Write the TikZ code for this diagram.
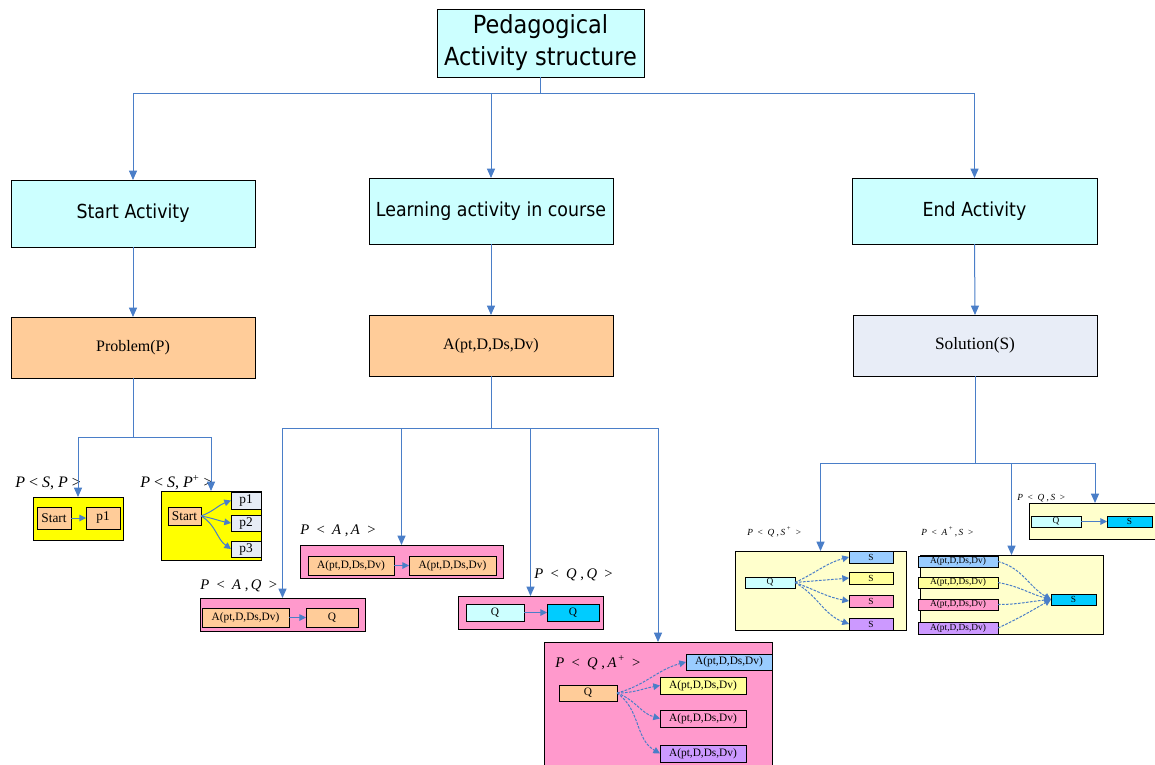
\documentclass[tikz,border=0pt]{standalone}
\usepackage{fontspec}
\setmainfont{Liberation Serif}
\newfontfamily\headfont{DejaVu Sans Condensed}
\usetikzlibrary{arrows.meta}

\definecolor{cyanlt}{HTML}{CCFFFF}
\definecolor{orangelt}{HTML}{FFCC99}
\definecolor{solfill}{HTML}{E8EDF7}
\definecolor{yel}{HTML}{FFFF00}
\definecolor{pfill}{HTML}{E6ECF5}
\definecolor{pinkbg}{HTML}{FF99CC}
\definecolor{creambg}{HTML}{FFFFCC}
\definecolor{cyandk}{HTML}{00CCFF}
\definecolor{bluelt}{HTML}{99CCFF}
\definecolor{yellt}{HTML}{FFFF99}
\definecolor{purplelt}{HTML}{CC99FF}
\definecolor{lineblue}{HTML}{4A7EC8}

% box from corner (x1,y1) to (x2,y2), in pixel units
\newcommand\bx[7]{\node[#6, minimum width={(#4-#2)*0.75pt}, minimum height={(#5-#3)*0.75pt}] (#1) at ({(#2+#4)/2},{(#3+#5)/2}) {#7};}
\newcommand\lbl[5]{\node[anchor=base west, inner sep=0pt, font=\fontsize{#4}{#4}\selectfont] (#1) at (#2,#3) {#5};}

\tikzset{
  box/.style={draw=black, line width=0.7pt, inner sep=0pt, outer sep=0pt, align=center},
  head/.style={box, fill=cyanlt, font=\headfont\fontsize{14.5}{17}\selectfont},
  mid/.style={box, font=\fontsize{12}{14}\selectfont},
  frame/.style={box, line width=0.6pt},
  sbox/.style={box, line width=0.5pt, font=\fontsize{#1}{#1}\selectfont},
  sbox/.default=9,
  conn/.style={draw=lineblue, line width=0.75pt, -{Triangle[length=7pt,width=6pt]}},
  inarr/.style={draw=lineblue, line width=0.75pt, -{Triangle[length=5pt,width=5pt]}},
  darr/.style={inarr, dashed, dash pattern=on 2pt off 1pt},
}

\begin{document}
\begin{tikzpicture}[x=0.75pt,y=-0.75pt]
\useasboundingbox (0,0) rectangle (1155,764);
\fill[white] (0,0) rectangle (1155,764);

% ---- top levels ----
\bx{top}{437}{9}{644}{77}{head, font=\headfont\fontsize{18.7}{24}\selectfont}{Pedagogical\\Activity structure}
\bx{sa}{11}{180}{255}{247}{head}{Start Activity}
\bx{la}{369}{178}{613}{244}{head}{Learning activity in course}
\bx{ea}{852}{178}{1097}{244}{head}{End Activity}
\bx{prob}{11}{317}{255}{378}{mid, fill=orangelt}{Problem(P)}
\bx{act}{369}{315}{613}{376}{mid, fill=orangelt}{A(pt,D,Ds,Dv)}
\bx{sol}{853}{315}{1097}{376}{mid, fill=solfill, font=\fontsize{13}{15}\selectfont}{Solution(S)}

\draw[conn] (top.south) -- ++(0,16) -| (sa.north);
\draw[conn] (top.south) -- ++(0,16) -| (la.north);
\draw[conn] (top.south) -- ++(0,16) -| (ea.north);
\draw[conn] (sa.south) -- (prob.north);
\draw[conn] (la.south) -- (act.north);
\draw[conn] (ea.south) -- (sol.north);

% ---- problem patterns ----
\bx{y1}{33}{497}{123}{540}{frame, fill=yel}{}
\bx{y1s}{37}{507}{71}{529}{sbox=10, fill=orangelt}{Start}
\bx{y1p}{86}{507}{120}{529}{sbox=10, fill=orangelt}{p1}
\draw[inarr] (y1s.east) -- (y1p.west);
\lbl{l1}{15}{487}{12}{\textit{P} < \textit{S}, \textit{P} >}

\bx{y2}{161}{491}{261}{560}{frame, fill=yel}{}
\bx{y2s}{168}{507}{201}{525}{sbox=10, fill=orangelt}{Start}
\bx{y2a}{231}{492}{261}{509}{sbox=10, fill=pfill}{p1}
\bx{y2b}{231}{515}{261}{531}{sbox=10, fill=pfill}{p2}
\bx{y2c}{231}{541}{261}{557}{sbox=10, fill=pfill}{p3}
\draw[inarr] (y2s.east) to[out=20,in=200] (y2a.west);
\draw[inarr] (y2s.east) to[out=-10,in=170] (y2b.west);
\draw[inarr] (y2s.east) to[out=-30,in=145] (y2c.west);
\lbl{l2}{140}{487}{12}{\textit{P} < \textit{S}, \textit{P}\textsuperscript{+} >}

\draw[conn] (prob.south) -- ++(0,59) -| (y1.north);
\draw[conn] (prob.south) -- ++(0,59) -| (y2.north);

% ---- learning activity patterns ----
\bx{aa}{300}{545}{503}{578}{frame, fill=pinkbg}{}
\bx{aa1}{308}{556}{394}{575}{sbox=8.5, fill=orangelt}{A(pt,D,Ds,Dv)}
\bx{aa2}{409}{556}{496}{575}{sbox=8.5, fill=orangelt}{A(pt,D,Ds,Dv)}
\draw[inarr] (aa1.east) -- (aa2.west);
\lbl{l3}{300}{534}{11}{\textit{P}\ \ <\ \ \textit{A}\ ,\,\textit{A}\ \ >}

\bx{aq}{200}{598}{365}{631}{frame, fill=pinkbg}{}
\bx{aq1}{202}{608}{289}{627}{sbox=8.5, fill=orangelt}{A(pt,D,Ds,Dv)}
\bx{aq2}{306}{608}{358}{627}{sbox=8.5, fill=orangelt}{Q}
\draw[inarr] (aq1.east) -- (aq2.west);
\lbl{l4}{200}{589}{11}{\textit{P}\ \ <\ \ \textit{A}\ ,\,\textit{Q}\ \ >}

\bx{qq}{458}{596}{603}{629}{frame, fill=pinkbg}{}
\bx{qq1}{466}{604}{524}{621}{sbox=8.5, fill=cyanlt}{Q}
\bx{qq2}{547}{604}{599}{621}{sbox=8.5, fill=cyandk}{Q}
\draw[inarr] (qq1.east) -- (qq2.west);
\lbl{l5}{534}{578}{11}{\textit{P}\ \ <\ \ \textit{Q}\ ,\,\textit{Q}\ \ >}

\bx{qa}{544}{642}{772}{772}{frame, fill=pinkbg}{}
\bx{qaq}{559}{685}{617}{701}{sbox=8.5, fill=orangelt}{Q}
\bx{qa1}{686}{654}{772}{670}{sbox=8.5, fill=bluelt}{A(pt,D,Ds,Dv)}
\bx{qa2}{660}{677}{746}{694}{sbox=8.5, fill=yellt}{A(pt,D,Ds,Dv)}
\bx{qa3}{660}{710}{746}{727}{sbox=8.5, fill=pinkbg}{A(pt,D,Ds,Dv)}
\bx{qa4}{660}{745}{746}{762}{sbox=8.5, fill=purplelt}{A(pt,D,Ds,Dv)}
\draw[darr] (qaq.east) to[out=15,in=195] (qa1.west);
\draw[darr] (qaq.east) to[out=0,in=190] (qa2.west);
\draw[darr] (qaq.east) to[out=-20,in=165] (qa3.west);
\draw[darr] (qaq.east) to[out=-35,in=150] (qa4.west);
\lbl{l6}{555}{667}{11}{\textit{P}\ \ <\ \ \textit{Q}\ ,\,\textit{A}\textsuperscript{\,+}\ \ >}

\draw[conn] (act.south) -- ++(0,52) -| (aq.north);
\draw[conn] (act.south) -- ++(0,52) -| (aa.north);
\draw[conn] (act.south) -- ++(0,52) -| (qq.north);
\draw[conn] (act.south) -- ++(0,52) -| (qa.north);

% ---- solution patterns ----
\bx{qs}{735}{551}{906}{630}{frame, fill=creambg}{}
\bx{qsq}{745}{577}{795}{588}{sbox=7, fill=cyanlt}{Q}
\bx{qs1}{849}{551}{893}{563}{sbox=7, fill=bluelt}{S}
\bx{qs2}{849}{572}{893}{584}{sbox=7, fill=yellt}{S}
\bx{qs3}{849}{595}{893}{607}{sbox=7, fill=pinkbg}{S}
\bx{qs4}{849}{618}{893}{630}{sbox=7, fill=purplelt}{S}
\draw[darr] (qsq.east) to[out=25,in=195] (qs1.west);
\draw[darr] (qsq.east) to[out=5,in=185] (qs2.west);
\draw[darr] (qsq.east) to[out=-20,in=170] (qs3.west);
\draw[darr] (qsq.east) to[out=-30,in=160] (qs4.west);
\lbl{l7}{747}{535}{7}{\textit{P}\ \ <\ \ \textit{Q}\ ,\,\textit{S}\,\textsuperscript{+}\ \ >}

\bx{as}{920}{555}{1103}{634}{frame, fill=creambg}{}
\bx{as1}{918}{556}{998}{567}{sbox=7, fill=bluelt}{A(pt,D,Ds,Dv)}
\bx{as2}{918}{577}{998}{588}{sbox=7, fill=yellt}{A(pt,D,Ds,Dv)}
\bx{as3}{918}{599}{998}{610}{sbox=7, fill=pinkbg}{A(pt,D,Ds,Dv)}
\bx{as4}{918}{622}{998}{634}{sbox=7, fill=purplelt}{A(pt,D,Ds,Dv)}
\bx{ass}{1051}{594}{1096}{605}{sbox=7, fill=cyandk}{S}
\draw[darr] (as1.east) to[out=-15,in=150] (ass.west);
\draw[darr] (as2.east) to[out=-10,in=165] (ass.west);
\draw[darr] (as3.east) to[out=0,in=185] (ass.west);
\draw[darr] (as4.east) to[out=25,in=210] (ass.west);
\lbl{l8}{921}{535}{7}{\textit{P}\ \ <\ \ \textit{A}\,\textsuperscript{+}\,,\,\textit{S}\ \ >}

\bx{qs0}{1029}{503}{1161}{539}{frame, fill=creambg}{}
\bx{qs0q}{1031}{516}{1081}{527}{sbox=7, fill=cyanlt}{Q}
\bx{qs0s}{1107}{516}{1152}{527}{sbox=7, fill=cyandk}{S}
\draw[inarr] (qs0q.east) -- (qs0s.west);
\lbl{l9}{1017}{500}{7}{\textit{P}\ \ <\ \ \textit{Q}\ ,\,\textit{S}\ \ >}

\draw[conn] (sol.south) -- ++(0,87) -| (qs.north);
\draw[conn] (sol.south) -- ++(0,87) -| (as.north);
\draw[conn] (sol.south) -- ++(0,87) -| (qs0.north);

\end{tikzpicture}
\end{document}
